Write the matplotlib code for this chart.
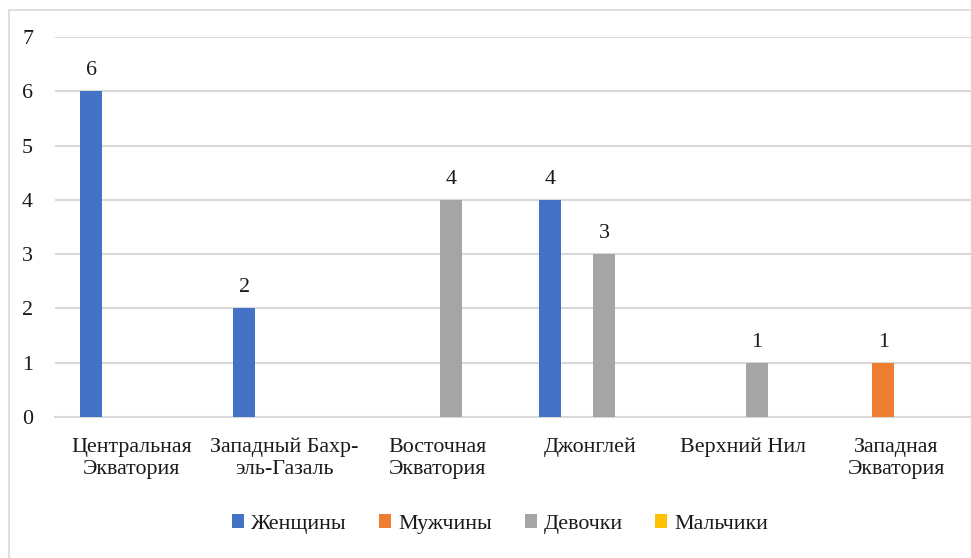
import matplotlib.pyplot as plt
from matplotlib.patches import Rectangle
import numpy as np

regions = ['Центральная\nЭкватория', 'Западный Бахр-\nэль-Газаль', 'Восточная\nЭкватория',
           'Джонглей', 'Верхний Нил', 'Западная\nЭкватория']
series = ['Женщины', 'Мужчины', 'Девочки', 'Мальчики']
women = [6, 2, 0, 4, 0, 0]
men = [0, 0, 0, 0, 0, 1]
girls = [0, 0, 4, 3, 1, 0]
boys = [0, 0, 0, 0, 0, 0]
colors = ['#4472C4', '#ED7D31', '#A5A5A5', '#FFC000']

plt.rcParams['font.family'] = ['Liberation Serif', 'DejaVu Serif']
txt_color = '#1a1a1a'
fs = 15.8

fig = plt.figure(figsize=(9.71, 5.58), dpi=100)
ax = fig.add_axes([55 / 971, 1 - 417 / 558, 918 / 971, 380 / 558])

# light grey border around the chart area
fig.patches.append(Rectangle((9 / 971, -0.05), 1.0, 1 - 10 / 558 + 0.05, transform=fig.transFigure,
                             fill=False, edgecolor='#D9D9D9', linewidth=1.2))

x = np.arange(len(regions))
slot = 0.175
width = 0.144
for i, (name, vals) in enumerate(zip(series, [women, men, girls, boys])):
    pos = x + (i - 1.5) * slot
    ax.bar(pos, vals, width, color=colors[i], label=name, zorder=3)
    for p, v in zip(pos, vals):
        if v > 0:
            ax.annotate(str(v), (p, v), xytext=(0, 8), textcoords='offset points',
                        ha='center', va='bottom', fontsize=fs, color=txt_color)

ax.set_xlim(-0.5, len(regions) - 0.5)
ax.set_ylim(0, 7)
ax.set_yticks(range(0, 8))
ax.yaxis.grid(True, color='#D9D9D9', linewidth=1.5, zorder=0)
ax.set_axisbelow(True)
for s in ['top', 'right', 'left']:
    ax.spines[s].set_visible(False)
ax.spines['bottom'].set_color('#D9D9D9')
ax.spines['bottom'].set_linewidth(1.5)

ax.set_xticks(x)
ax.set_xticklabels(regions, fontsize=fs, color=txt_color, linespacing=1.2)
ax.tick_params(axis='x', length=0, pad=15)
ax.tick_params(axis='y', length=0, pad=0, labelsize=fs, labelcolor=txt_color)
for lbl in ax.get_yticklabels():
    lbl.set_horizontalalignment('left')
    lbl.set_x(-33 / 918)

fig.legend(loc='center', bbox_to_anchor=(500 / 971, 1 - 524 / 558), ncol=4, frameon=False,
           fontsize=fs, handlelength=0.55, handleheight=0.55, handletextpad=0.3,
           columnspacing=1.5, labelcolor=txt_color)

fig.savefig('out.png', dpi=100)
